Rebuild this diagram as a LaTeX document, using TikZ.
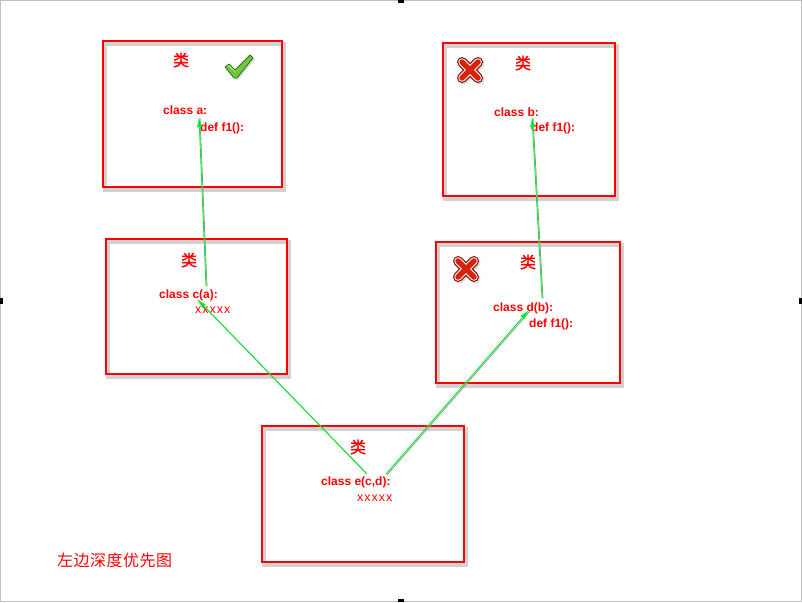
\documentclass[tikz,border=0pt]{standalone}
\usepackage{fontspec}
\setmainfont{Liberation Sans}
\newfontfamily\cjk{Noto Sans CJK SC}
\newfontfamily\cjkb[FakeBold=1.2]{Noto Sans CJK SC}
\usetikzlibrary{arrows.meta}
\definecolor{lnk}{RGB}{0,240,40}
\definecolor{xdark}{RGB}{130,20,10}
\definecolor{xred}{RGB}{215,35,10}
\definecolor{chkdark}{RGB}{50,110,30}
\definecolor{chkgreen}{RGB}{110,200,60}
\tikzset{
  box/.style={draw=red, line width=2.5pt},
  boxsh/.style={draw=black, opacity=0.18, line width=4pt},
  lbl/.style={text=red, font=\bfseries\fontsize{12}{14}\selectfont, anchor=base west, inner sep=0pt},
  xlbl/.style={text=red, font=\fontsize{12.5}{14}\selectfont\addfontfeatures{LetterSpace=8}, anchor=base west, inner sep=0pt},
  lei/.style={text=red, font=\cjkb\fontsize{16}{17}\selectfont, inner sep=0pt},
  link/.style={draw=lnk, line width=0.9pt, -{Latex[length=10pt,width=5pt]},
    preaction={draw=black!40, line width=0.9pt, transform canvas={xshift=1pt,yshift=-1pt}, -{}}},
  handle/.style={fill=black, draw=none},
}
\newcommand{\crossmark}[2]{%
  \begin{scope}[shift={(#1,#2)}]
    \draw[black!30, line width=10pt, line cap=round, opacity=0.5, shift={(1.5,1.5)}] (-8,-8) -- (8,8) (-8,8) -- (8,-8);
    \draw[xdark, line width=10pt, line cap=round] (-8,-8) -- (8,8) (-8,8) -- (8,-8);
    \draw[white, line width=7.5pt, line cap=round] (-8,-8) -- (8,8) (-8,8) -- (8,-8);
    \draw[xred, line width=5.5pt, line cap=round] (-8,-8) -- (8,8) (-8,8) -- (8,-8);
  \end{scope}}
\newcommand{\shbox}[4]{%
  \path[boxsh] (#1+2,#2+3) rectangle (#3+2,#4+3);
  \path[box] (#1,#2) rectangle (#3,#4);}
\begin{document}
\begin{tikzpicture}[x=1pt,y=-1pt]
\useasboundingbox (0,0) rectangle (802,602);
\fill[white] (0,0) rectangle (802,602);
\draw[black!25, line width=1pt] (0.5,0.5) rectangle (801.5,601.5);
\fill[handle] (398,0) rectangle (404,3);
\fill[handle] (398,599) rectangle (404,602);
\fill[handle] (0,298) rectangle (3,304);
\fill[handle] (799,298) rectangle (802,304);

% boxes
\shbox{103}{41}{282}{187}
\shbox{443}{43}{615}{196}
\shbox{106}{239}{287}{374}
\shbox{436}{242}{620}{383}
\shbox{262}{426}{464}{562}

% 类 labels
\node[lei] (la) at (181,60) {类};
\node[lei] (lb) at (523,63) {类};
\node[lei] (lc) at (189,260) {类};
\node[lei] (ld) at (528,262) {类};
\node[lei] (le) at (358,447) {类};

% check mark
\begin{scope}[shift={(225,55)}]
  \path[fill=black, opacity=0.15] (1.5,13.5) -- (5.5,10.5) -- (11.5,16.5) -- (26.5,1.5) -- (29.5,4.5) -- (13.5,24.5) -- (10.5,24.5) -- cycle;
  \path[fill=chkgreen, draw=chkdark, line width=0.8pt, line join=round]
    (0,12) -- (4,9) -- (10,15) -- (25,0) -- (28,3) -- (12,23) -- (9,23) -- cycle;
  \path[fill=white, opacity=0.5] (3,11) -- (4,10) -- (10,16) -- (11,17.5) -- cycle;
\end{scope}
\node[inner sep=0pt] (chk) at (239,67) {};

% crosses
\crossmark{470}{70}
\crossmark{466}{269}
\node[inner sep=0pt] (crb) at (470,70) {};
\node[inner sep=0pt] (crd) at (466,269) {};

% texts
\node[lbl] (ta1) at (163,114) {class a:};
\node[lbl] (ta2) at (200,131) {def f1():};
\node[lbl] (tb1) at (494,116) {class b:};
\node[lbl] (tb2) at (531,131) {def f1():};
\node[lbl] (tc1) at (159,298) {class c(a):};
\node[xlbl] (tc2) at (195,313) {xxxxx};
\node[lbl] (td1) at (493,311) {class d(b):};
\node[lbl] (td2) at (529,327) {def f1():};
\node[lbl] (te1) at (321,485) {class e(c,d):};
\node[xlbl] (te2) at (357,501) {xxxxx};
\node[text=red, font=\cjk\fontsize{16}{17}\selectfont\addfontfeatures{LetterSpace=3}, anchor=base west, inner sep=0pt] (cap) at (57,566) {左边深度优先图};

% connector ends
\coordinate (ca) at (199,117);
\coordinate (cc) at (206,286);
\coordinate (cb) at (532,117);
\coordinate (cd) at (542,298);
\coordinate (cci) at (197,299);
\coordinate (cdi) at (529,310);
\coordinate (ce1) at (366,473);
\coordinate (ce2) at (386,474);

\draw[link] (cc) -- (ca);
\draw[link] (cd) -- (cb);
\draw[link] (ce1) -- (cci);
\draw[link] (ce2) -- (cdi);
\end{tikzpicture}
\end{document}
